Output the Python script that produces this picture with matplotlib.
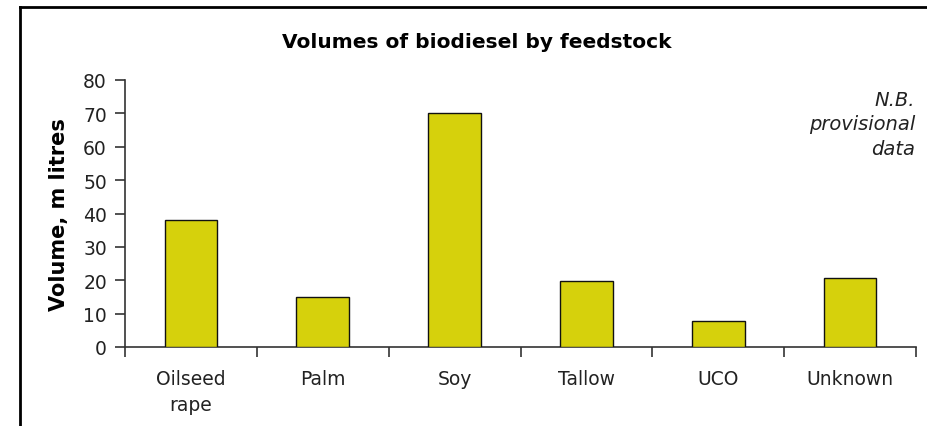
import matplotlib
matplotlib.use("Agg")
import matplotlib.pyplot as plt
from matplotlib.lines import Line2D
import numpy as np

categories = ["Oilseed\nrape", "Palm", "Soy", "Tallow", "UCO", "Unknown"]
volumes = [38.2, 15.0, 70.1, 19.7, 7.7, 20.6]
yticks = [0, 10, 20, 30, 40, 50, 60, 70, 80]

plt.rcParams['font.family'] = ['DejaVu Sans']

fig = plt.figure(figsize=(9.27, 4.27), dpi=100)
ax = fig.add_axes([125/927, (427-348)/427, (916-125)/927, (348-81)/427])

x = np.arange(len(categories))
ax.bar(x, volumes, width=0.4, color='#D6D10C', edgecolor='#111111', linewidth=1.0, zorder=3)

ax.set_xlim(-0.5, len(categories) - 0.5)
ax.set_ylim(0, 80)
ax.set_yticks(yticks)
ax.set_xticks(x)
ax.set_xticklabels(categories, fontsize=13.5, color='#222222', linespacing=1.45)
ax.set_xticks(np.arange(-0.5, len(categories), 1.0), minor=True)
ax.tick_params(axis='x', which='major', length=0, pad=16)
ax.tick_params(axis='x', which='minor', length=7, width=1.2, color='#333333', direction='out')
ax.tick_params(axis='y', which='major', length=7, width=1.2, color='#333333', labelsize=13.5, labelcolor='#222222', pad=6)

for s in ['top', 'right']:
    ax.spines[s].set_visible(False)
for s in ['left', 'bottom']:
    ax.spines[s].set_color('#333333')
    ax.spines[s].set_linewidth(1.2)

ax.set_ylabel("Volume, m litres", fontsize=15, fontweight='bold', labelpad=10)
fig.text(477/927, 1 - 42/427, "Volumes of biodiesel by feedstock", ha='center', va='center',
         fontsize=14.5, fontweight='bold')
fig.text(915/927, 1 - 125/427, "N.B.\nprovisional\ndata", ha='right', va='center',
         fontsize=14, fontstyle='italic', color='#222222', linespacing=1.35)

# figure border (left and top)
fig.add_artist(Line2D([20/927, 20/927], [0, 1 - 8/427], transform=fig.transFigure, color='black', linewidth=2))
fig.add_artist(Line2D([20/927, 1], [1 - 8/427, 1 - 8/427], transform=fig.transFigure, color='black', linewidth=2))

fig.savefig("out.png", dpi=100)
